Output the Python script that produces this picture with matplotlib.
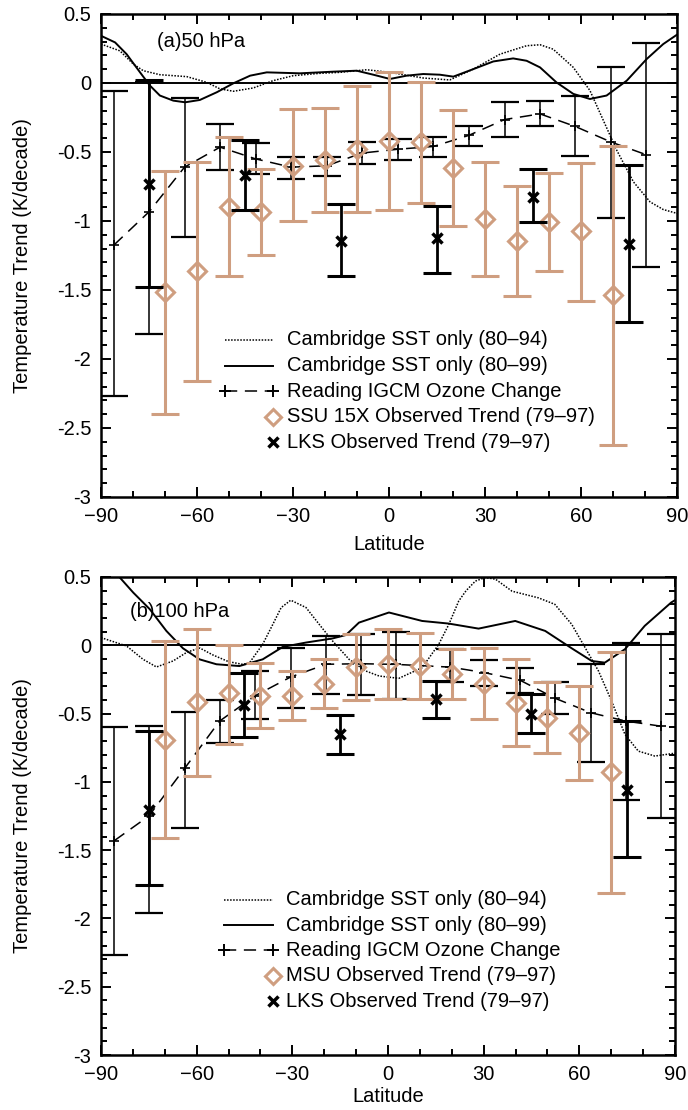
import matplotlib
matplotlib.use("Agg")
import matplotlib.pyplot as plt
import numpy as np
from matplotlib.ticker import MultipleLocator, FuncFormatter

plt.rcParams["font.family"] = ["Liberation Sans", "DejaVu Sans"]
plt.rcParams["font.size"] = 14.5

TAN = "#cf9e80"

# ---------------- (a) 50 hPa ----------------
a_sst94_lat = [-90, -84.1, -79.9, -76.8, -71.6, -63.2, -57, -52.8, -48.6, -42.4, -36.2, -29.9,
               -21.6, -15.3, -7, 0.3, 10.7, 19, 26.3, 34.7, 43, 47.2, 51.3, 57.6, 62.8, 67,
               71.2, 76.4, 81.6, 85.7, 90]
a_sst94 = [0.282, 0.233, 0.137, 0.089, 0.06, 0.046, 0.005, -0.043, -0.06, -0.036, 0.017, 0.053,
           0.07, 0.077, 0.096, 0.077, 0.036, 0.022, 0.10, 0.209, 0.27, 0.277, 0.245, 0.113, -0.055,
           -0.272, -0.489, -0.717, -0.862, -0.917, -0.945]

a_sst99_lat = [-90, -85.6, -82, -77.8, -74.7, -71.6, -67.4, -63.7, -59.1, -53.8, -48.6, -43.4,
               -38.2, -27.8, -17.4, -10.1, -4.9, 0.3, 5.5, 10.7, 15.9, 20.1, 26.3, 32.6, 38.8,
               43, 47.2, 52.3, 57.6, 62.8, 68, 74.3, 80.5, 85.7, 90]
a_sst99 = [0.342, 0.294, 0.209, 0.077, -0.019, -0.091, -0.128, -0.14, -0.123, -0.067, -0.002,
           0.053, 0.077, 0.07, 0.082, 0.089, 0.06, 0.029, 0.053, 0.065, 0.06, 0.046, 0.10, 0.156,
           0.178, 0.161, 0.113, 0.005, -0.079, -0.116, -0.091, 0.017, 0.173, 0.282, 0.35]

a_igcm_lat = [-86, -75, -63.9, -52.8, -41.7, -30.6, -19.4, -8.5, 2.8, 13.9, 24.9, 36.1, 47.2,
              58.2, 69.5, 80.4]
a_igcm = [-1.175, -0.934, -0.61, -0.465, -0.55, -0.61, -0.6, -0.508, -0.48, -0.46, -0.38,
          -0.265, -0.224, -0.315, -0.429, -0.52]
a_igcm_hi = [-0.06, 0.005, -0.108, -0.30, -0.436, -0.537, -0.537, -0.429, -0.404, -0.39, -0.315,
             -0.14, -0.133, -0.097, 0.118, 0.293]
a_igcm_lo = [-2.27, -1.82, -1.115, -0.633, -0.66, -0.698, -0.677, -0.585, -0.561, -0.537, -0.46,
             -0.393, -0.313, -0.532, -0.982, -1.336]

obs_lat = [-70, -60, -50, -40, -30, -20, -10, 0, 10, 20, 30, 40, 50, 60, 70]
a_ssu = [-1.516, -1.36, -0.90, -0.934, -0.60, -0.556, -0.477, -0.417, -0.429, -0.617, -0.987,
         -1.146, -1.006, -1.074, -1.533]
a_ssu_hi = [-0.64, -0.57, -0.39, -0.62, -0.19, -0.18, -0.02, 0.08, 0.01, -0.198, -0.57, -0.749,
            -0.65, -0.578, -0.458]
a_ssu_lo = [-2.40, -2.16, -1.40, -1.25, -1.0, -0.934, -0.936, -0.917, -0.867, -1.04, -1.40,
            -1.543, -1.36, -1.577, -2.62]

lks_lat = [-75, -45, -15, 15, 45, 75]
a_lks = [-0.73, -0.67, -1.143, -1.127, -0.826, -1.17]
a_lks_hi = [0.024, -0.41, -0.879, -0.891, -0.626, -0.592]
a_lks_lo = [-1.476, -0.92, -1.40, -1.374, -1.006, -1.73]

# ---------------- (b) 100 hPa ----------------
b_sst94_lat = [-90, -82, -76.8, -72.6, -67.4, -63, -59, -55, -50, -45.5, -43.4, -39.3, -36.1,
               -33.5, -30.5, -25.7, -21.6, -17.4, -12.2, -7, -2.8, 3.4, 10.7, 15.9, 19.1, 22.2,
               24.5, 27.4, 30.5, 33.7, 38.9, 47.2, 52.3, 57.6, 61.8, 66, 70.1, 74.3, 78.5, 83.7,
               88.8, 90]
b_sst94 = [0.056, -0.005, -0.103, -0.159, -0.115, -0.05, -0.02, -0.07, -0.12, -0.14, -0.127,
           0.007, 0.154, 0.276, 0.33, 0.276, 0.154, 0.032, -0.103, -0.188, -0.225, -0.242, -0.164,
           0.007, 0.154, 0.325, 0.40, 0.47, 0.496, 0.484, 0.396, 0.347, 0.30, 0.154, -0.017,
           -0.188, -0.408, -0.652, -0.775, -0.811, -0.794, -0.79]

b_sst99_lat = [-90, -84.1, -79.9, -74.7, -69.5, -64.3, -59.1, -53.8, -46.6, -39.3, -33, -25.7,
               -17.4, -13.2, -9.1, 0.3, 10.7, 19, 28.4, 39.9, 49.3, 57.6, 63.9, 68, 74.3, 80.5,
               88.8, 90]
b_sst99 = [0.65, 0.496, 0.386, 0.264, 0.105, -0.022, -0.103, -0.139, -0.152, -0.103, -0.012,
           0.02, 0.05, 0.075, 0.166, 0.24, 0.178, 0.159, 0.122, 0.178, 0.105, -0.022, -0.115,
           -0.127, -0.029, 0.142, 0.313, 0.33]

b_igcm_lat = [-85.8, -75, -63.8, -52.8, -41.7, -30.5, -19.4, -8.4, 2.6, 19.6, 30.2, 41.5, 52.5,
              63.6, 74.6, 85.5]
b_igcm = [-1.43, -1.25, -0.902, -0.555, -0.37, -0.232, -0.139, -0.135, -0.14, -0.16, -0.2,
          -0.257, -0.389, -0.494, -0.555, -0.592]
b_igcm_hi = [-0.597, -0.59, -0.487, -0.403, -0.19, -0.017, 0.068, 0.08, 0.1, -0.03, -0.11,
             -0.164, -0.267, -0.135, 0.02, 0.085]
b_igcm_lo = [-2.265, -1.96, -1.337, -0.714, -0.543, -0.457, -0.355, -0.364, -0.396, -0.27,
             -0.30, -0.347, -0.501, -0.853, -1.136, -1.264]

b_msu = [-0.69, -0.416, -0.35, -0.372, -0.372, -0.28, -0.16, -0.139, -0.15, -0.213, -0.281,
         -0.42, -0.53, -0.64, -0.929]
b_msu_hi = [0.03, 0.117, 0.0, -0.127, -0.188, -0.097, 0.08, 0.117, 0.093, -0.03, -0.022, -0.103,
            -0.269, -0.298, -0.046]
b_msu_lo = [-1.41, -0.958, -0.72, -0.604, -0.55, -0.457, -0.40, -0.396, -0.39, -0.391, -0.543,
            -0.738, -0.792, -0.983, -1.81]

b_lks = [-1.203, -0.438, -0.653, -0.396, -0.506, -1.056]
b_lks_hi = [-0.63, -0.2, -0.511, -0.265, -0.355, -0.556]
b_lks_lo = [-1.757, -0.672, -0.795, -0.533, -0.645, -1.553]


def yerr(mid, hi, lo):
    mid = np.array(mid)
    return [mid - np.array(lo), np.array(hi) - mid]


def panel(ax, tag, s94_lat, s94, s99_lat, s99, ig_lat, ig, ig_hi, ig_lo,
          obs, obs_hi, obs_lo, lks, lks_hi, lks_lo, obs_name, xpad):
    ax.plot(s94_lat, s94, color="k", lw=1.1, ls=(0, (1, 1)))
    ax.plot(s99_lat, s99, color="k", lw=1.4)
    ax.axhline(0, color="k", lw=1.4)

    ax.errorbar(ig_lat, ig, yerr=yerr(ig, ig_hi, ig_lo), fmt="none", ecolor="k",
                elinewidth=1.1, capsize=10, capthick=1.6)
    ax.plot(ig_lat, ig, color="k", lw=1.1, dashes=(8, 5), marker="+", ms=7, mew=1.2)

    ax.errorbar(obs_lat, obs, yerr=yerr(obs, obs_hi, obs_lo), fmt="none", ecolor=TAN,
                elinewidth=2.2, capsize=10, capthick=2.2)
    ax.plot(obs_lat, obs, ls="none", marker="D", ms=9, mfc="none", mec=TAN, mew=2.2)

    ax.errorbar(lks_lat, lks, yerr=yerr(lks, lks_hi, lks_lo), fmt="none", ecolor="k",
                elinewidth=2.0, capsize=10, capthick=2.2)
    ax.plot(lks_lat, lks, ls="none", marker="x", ms=7, mew=2.5, color="k")

    ax.set_xlim(-90, 90)
    ax.set_ylim(-3, 0.5)
    ax.xaxis.set_major_locator(MultipleLocator(30))
    ax.xaxis.set_minor_locator(MultipleLocator(10))
    ax.yaxis.set_major_locator(MultipleLocator(0.5))
    ax.yaxis.set_minor_locator(MultipleLocator(0.1))
    ax.yaxis.set_major_formatter(FuncFormatter(lambda v, p: "%g" % v))
    ax.tick_params(which="both", direction="in", top=True, right=True, width=1.4)
    ax.tick_params(which="major", length=7, labelsize=14.5)
    ax.tick_params(axis="y", which="major", pad=7)
    ax.tick_params(axis="x", which="major", pad=7)
    ax.tick_params(which="minor", length=4)
    for sp in ax.spines.values():
        sp.set_linewidth(1.8)
    ax.set_xlabel("Latitude", labelpad=xpad)
    ax.set_ylabel("Temperature Trend (K/decade)", labelpad=18)
    ax.text(tag[1], tag[2], tag[0], transform=ax.transAxes, va="center", ha="left")

    # legend, drawn by hand so markers sit at the right end of the key
    x0, x1, xt = 0.215, 0.299, 0.323
    rows = [0.325, 0.272, 0.219, 0.166, 0.113]
    tr = ax.transAxes
    ax.plot([x0, x1], [rows[0]] * 2, transform=tr, color="k", lw=1.1, ls=(0, (1, 1)))
    ax.plot([x0, x1], [rows[1]] * 2, transform=tr, color="k", lw=1.4)
    ax.plot([x0, x1], [rows[2]] * 2, transform=tr, color="k", lw=1.1, dashes=(8, 5),
            marker="+", ms=9, mew=1.4)
    ax.plot([x1], [rows[3]], transform=tr, ls="none", marker="D", ms=8, mfc="white",
            mec=TAN, mew=2.2)
    ax.plot([x1], [rows[4]], transform=tr, ls="none", marker="x", ms=7, mew=2.5, color="k")
    labels = ["Cambridge SST only (80\u201394)", "Cambridge SST only (80\u201399)",
              "Reading IGCM Ozone Change", obs_name, "LKS Observed Trend (79\u201397)"]
    for yy, lab in zip(rows, labels):
        ax.text(xt, yy, lab, transform=tr, va="center", ha="left")


fig = plt.figure(figsize=(6.88, 11.10), dpi=100)
ax_a = fig.add_axes([0.1468, 0.5523, 0.8372, 0.4351])
ax_b = fig.add_axes([0.1468, 0.0495, 0.8343, 0.4307])

panel(ax_a, ("(a)50 hPa", 0.097, 0.942), a_sst94_lat, a_sst94, a_sst99_lat, a_sst99,
      a_igcm_lat, a_igcm, a_igcm_hi, a_igcm_lo, a_ssu, a_ssu_hi, a_ssu_lo,
      a_lks, a_lks_hi, a_lks_lo, "SSU 15X Observed Trend (79\u201397)", 7)
panel(ax_b, ("(b)100 hPa", 0.05, 0.927), b_sst94_lat, b_sst94, b_sst99_lat, b_sst99,
      b_igcm_lat, b_igcm, b_igcm_hi, b_igcm_lo, b_msu, b_msu_hi, b_msu_lo,
      b_lks, b_lks_hi, b_lks_lo, "MSU Observed Trend (79\u201397)", 2)

fig.savefig("out.png", dpi=100)
